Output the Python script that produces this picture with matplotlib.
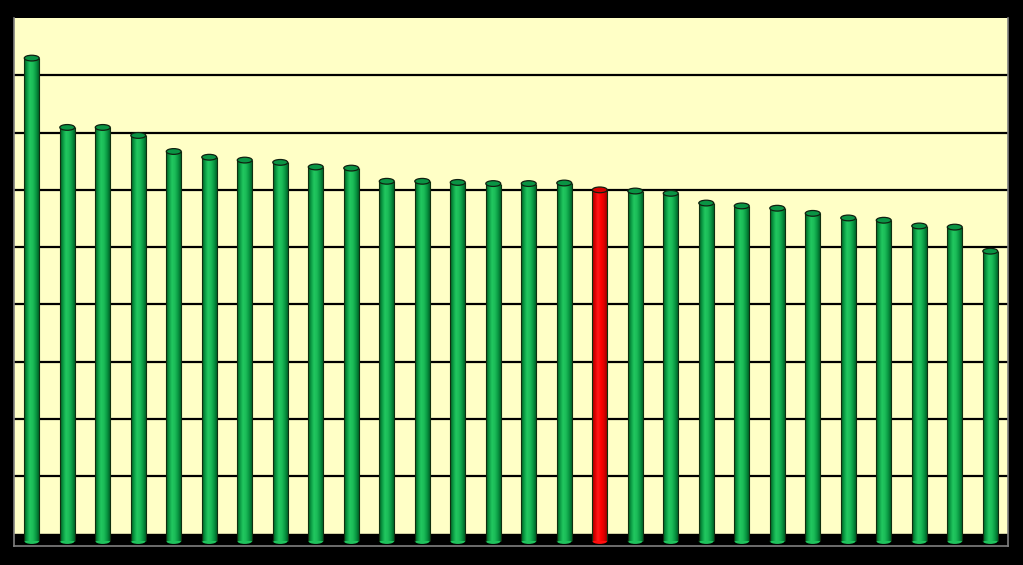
import matplotlib
matplotlib.use("Agg")
import matplotlib.pyplot as plt
import numpy as np
from matplotlib.patches import Ellipse
from matplotlib.colors import LinearSegmentedColormap

values = [8.30, 7.09, 7.09, 6.95, 6.67, 6.57, 6.52, 6.48, 6.40, 6.38,
          6.15, 6.15, 6.13, 6.11, 6.11, 6.12, 6.00, 5.98, 5.94, 5.77,
          5.72, 5.68, 5.59, 5.51, 5.47, 5.37, 5.35, 4.93]
highlight = 16  # red bar index

fig = plt.figure(figsize=(10.23, 5.65), dpi=100, facecolor="black")
ax = fig.add_axes([14/1023, (565-546)/565, (1008-14)/1023, (546-18)/565])
ax.set_facecolor("#ffffc6")

n = len(values)
x = np.arange(n)
w = 0.42
base = -0.13
ax.set_xlim(-0.5, n - 0.5)
ax.set_ylim(-0.216, 9)

# floor
ax.axhspan(-0.216, 0.0, color="black", zorder=1)
# gridlines
for g in range(1, 9):
    ax.axhline(g, color="black", lw=1.6, zorder=1)

green_cmap = LinearSegmentedColormap.from_list(
    "g", ["#005a20", "#0b9a44", "#22c860", "#1cbc58", "#0a9a44", "#00662a"])
red_cmap = LinearSegmentedColormap.from_list(
    "r", ["#9a0000", "#e00000", "#ff1a1a", "#ff0000", "#e00000", "#a00000"])
grad = np.linspace(0, 1, 64).reshape(1, -1)

bars = ax.bar(x, [v - base for v in values], bottom=base, width=w,
              color="none", edgecolor="none", zorder=2)
for i, (b, v) in enumerate(zip(bars, values)):
    cmap = red_cmap if i == highlight else green_cmap
    top_c = "#d80000" if i == highlight else "#0a9444"
    x0 = b.get_x()
    ax.imshow(grad, cmap=cmap, aspect="auto", extent=[x0, x0 + w, base, v],
              zorder=3, interpolation="bilinear")
    ax.add_patch(Ellipse((x[i], base), w, 0.1, facecolor=cmap(0.5),
                         edgecolor="none", zorder=2.9))
    ax.vlines([x0, x0 + w], base, v, color="#103010", lw=0.8, zorder=4)
    ax.add_patch(Ellipse((x[i], v), w, 0.1, facecolor=top_c,
                         edgecolor="#102010", lw=0.9, zorder=5))

ax.set_xticks([])
ax.set_yticks([])
for s in ["left", "right", "bottom"]:
    ax.spines[s].set_color("#808080")
    ax.spines[s].set_linewidth(1.2)
ax.spines["top"].set_visible(False)

fig.savefig("out.png", dpi=100, facecolor="black")
